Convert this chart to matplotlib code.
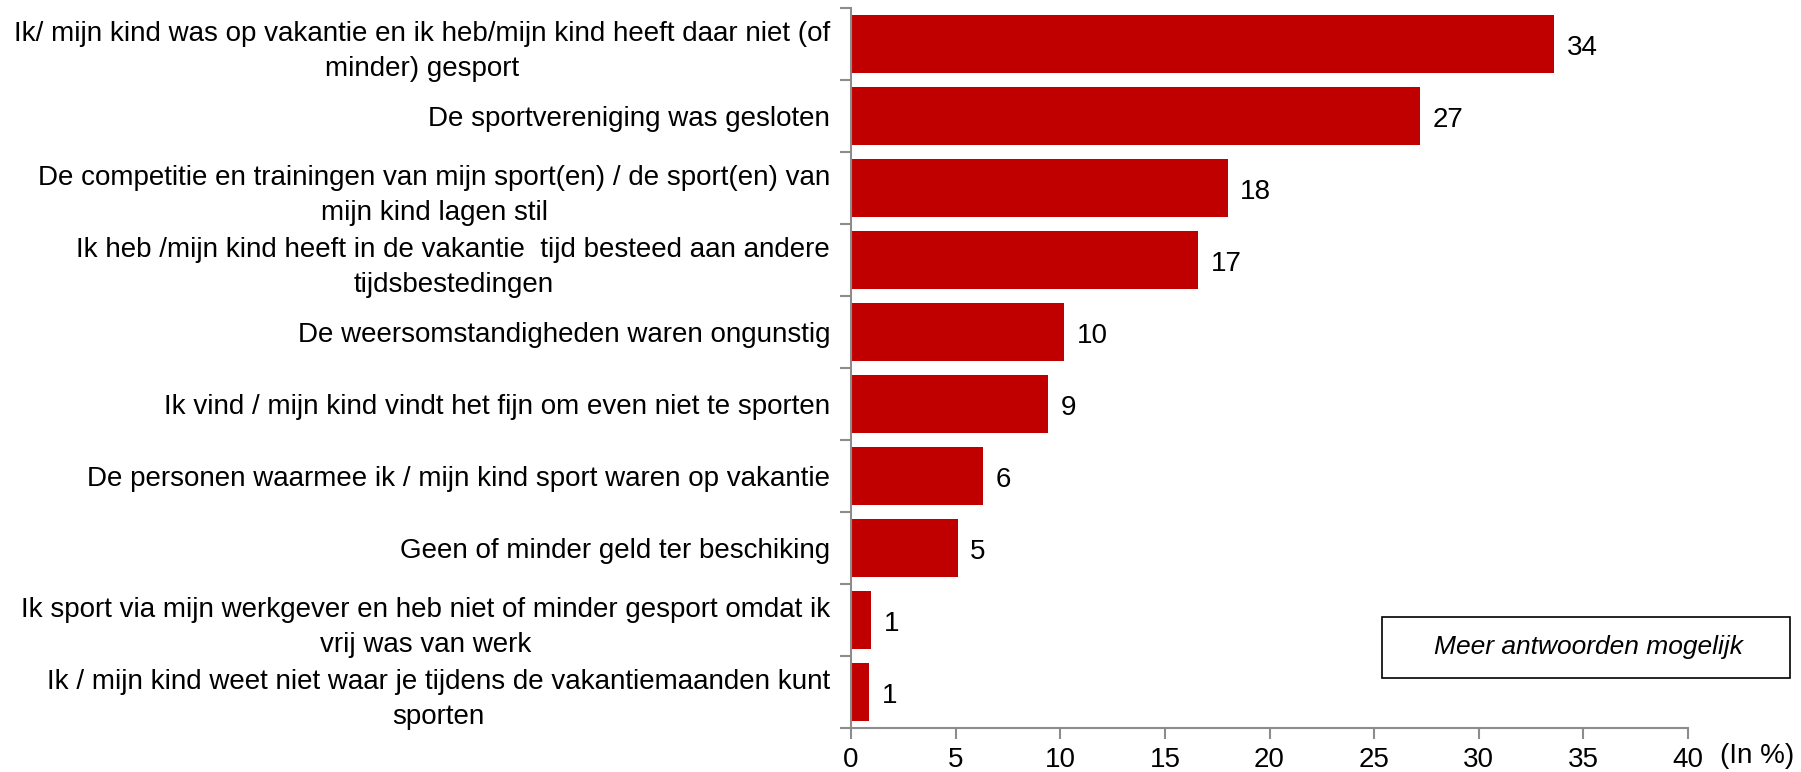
import numpy as np
import matplotlib
matplotlib.use("Agg")
import matplotlib.pyplot as plt
from matplotlib.patches import Rectangle

plt.rcParams['font.family'] = ['Liberation Sans', 'DejaVu Sans']

# answers, top to bottom
categories = [
    "Ik/ mijn kind was op vakantie en ik heb/mijn kind heeft daar niet (of\nminder) gesport",
    "De sportvereniging was gesloten",
    "De competitie en trainingen van mijn sport(en) / de sport(en) van\nmijn kind lagen stil",
    "Ik heb /mijn kind heeft in de vakantie  tijd besteed aan andere\ntijdsbestedingen",
    "De weersomstandigheden waren ongunstig",
    "Ik vind / mijn kind vindt het fijn om even niet te sporten",
    "De personen waarmee ik / mijn kind sport waren op vakantie",
    "Geen of minder geld ter beschiking",
    "Ik sport via mijn werkgever en heb niet of minder gesport omdat ik\nvrij was van werk",
    "Ik / mijn kind weet niet waar je tijdens de vakantiemaanden kunt\nsporten",
]
values = [33.6, 27.2, 18.0, 16.6, 10.2, 9.4, 6.3, 5.1, 0.95, 0.87]
x_ticks = [0, 5, 10, 15, 20, 25, 30, 35, 40]

red = '#C00000'
grey = '#8C8C8C'
fs = 20

W, H = 1801, 772
fig = plt.figure(figsize=(W / 100, H / 100), dpi=100)
ax = fig.add_axes([851 / W, 1 - 728 / H, (1688 - 851) / W, (728 - 8) / H])

y = np.arange(len(categories))
ax.barh(y, values, height=0.8, color=red)
for yi, v in zip(y, values):
    ax.text(v + 0.6, yi + 0.05, f"{round(v):d}", va='center', ha='left', fontsize=fs)

ax.set_ylim(len(categories) - 0.5, -0.5)
ax.set_xlim(0, 40)

ax.set_yticks(y)
ax.set_yticklabels(categories, fontsize=fs, multialignment='center')
for lbl in ax.get_yticklabels():
    lbl.set_linespacing(1.45)
ax.set_yticks(np.arange(-0.5, len(categories)), minor=True)
ax.tick_params(axis='y', which='major', length=0, pad=15)
ax.tick_params(axis='y', which='minor', length=8, width=1.5, color=grey)

ax.set_xticks(x_ticks)
ax.set_xticklabels([str(t) for t in x_ticks], fontsize=fs)
ax.tick_params(axis='x', length=8, width=1.5, color=grey, pad=6)

for s in ['top', 'right']:
    ax.spines[s].set_visible(False)
for s in ['left', 'bottom']:
    ax.spines[s].set_color(grey)
    ax.spines[s].set_linewidth(1.5)

fig.text(1720 / W, 1 - 756 / H, "(In %)", fontsize=fs, va='center', ha='left')

# note box
fig.patches.append(Rectangle((1382 / W, 1 - 678 / H), (1790 - 1382) / W, (678 - 617) / H,
                             transform=fig.transFigure, fill=False, edgecolor='black', linewidth=1.2))
fig.text(1588 / W, 1 - 647 / H, "Meer antwoorden mogelijk", fontsize=19, style='italic',
         ha='center', va='center')

fig.savefig('out.png', dpi=100)
